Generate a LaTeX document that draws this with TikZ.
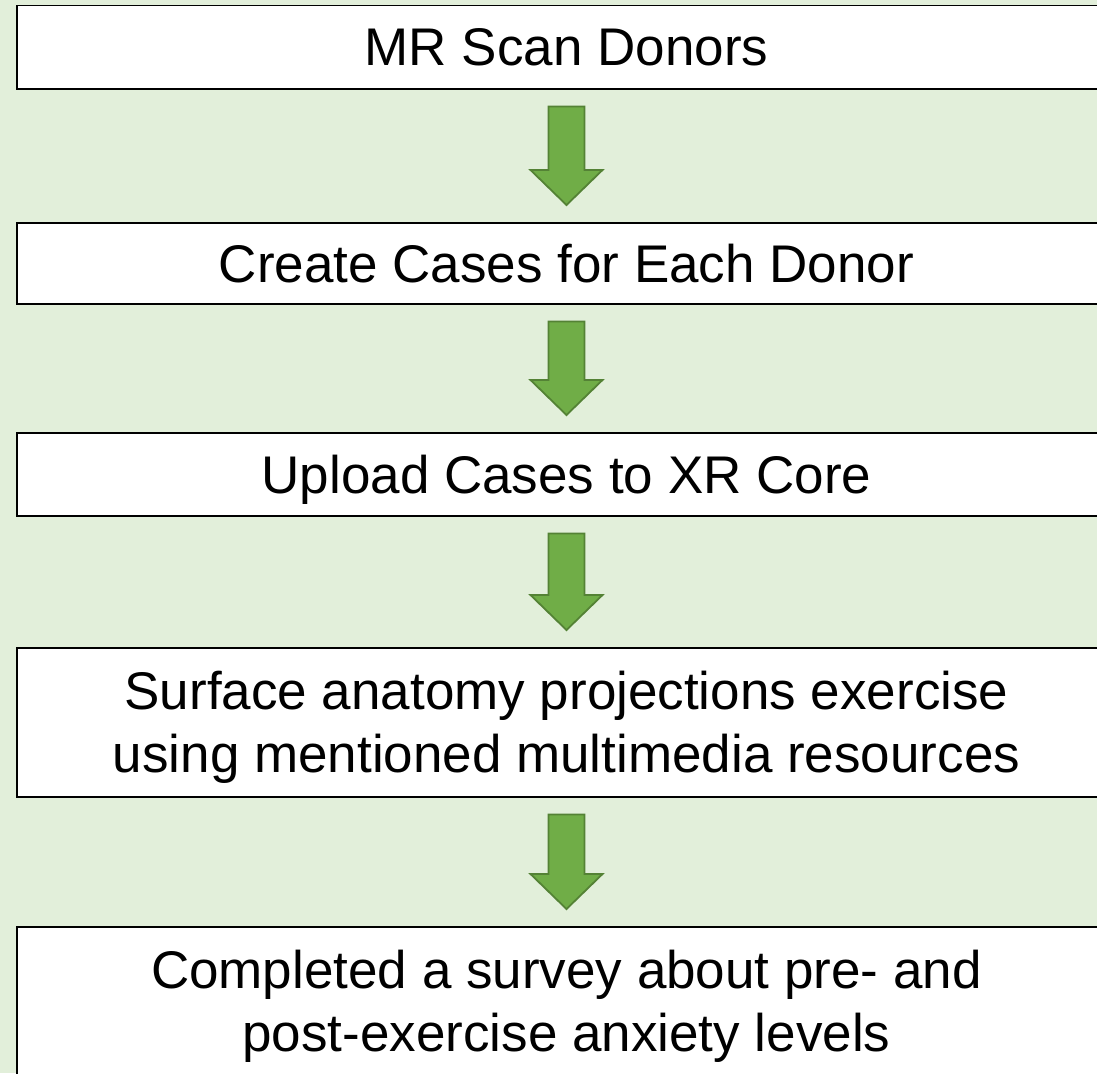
\documentclass[tikz,border=0pt]{standalone}
\usepackage{fontspec}
\setmainfont{Liberation Sans}
\usetikzlibrary{calc}
\definecolor{bggreen}{HTML}{E2EFDA}
\definecolor{arrfill}{HTML}{70AD47}
\definecolor{arrdraw}{HTML}{548235}
\tikzset{
  stepbox/.style={draw=black, line width=1.5pt, fill=white, inner sep=0pt,
    minimum width=1099pt, anchor=north, align=center, text depth=0pt,
    font=\fontsize{53}{63}\selectfont},
  blockarr/.style={fill=arrfill, draw=arrdraw, line width=1.8pt, line join=miter}
}
\newcommand\blockarrow[2]{%
  \draw[blockarr] ($(#1.south)+(-18,-17)$) -- ($(#2.north)+(-18,52)$) -- ($(#2.north)+(-36,52)$)
    -- ($(#2.north)+(0,17)$) -- ($(#2.north)+(36,52)$) -- ($(#2.north)+(18,52)$)
    -- ($(#1.south)+(18,-17)$) -- cycle;}
\begin{document}
\begin{tikzpicture}[x=1pt,y=1pt]
\useasboundingbox (0,0) rectangle (1097,-1073);
\clip (0,0) rectangle (1097,-1073);
\fill[bggreen] (0,0) rectangle (1097,-1073);
\node[stepbox, minimum height=83pt] (b1) at (566.5,-5) {MR Scan Donors};
\node[stepbox, minimum height=81pt] (b2) at (566.5,-222) {Create Cases for Each Donor};
\node[stepbox, minimum height=83pt] (b3) at (566.5,-432) {Upload Cases to XR Core};
\node[stepbox, minimum height=149pt] (b4) at (566.5,-647) {Surface anatomy projections exercise\\using mentioned multimedia resources};
\node[stepbox, minimum height=149pt] (b5) at (566.5,-926) {Completed a survey about pre- and\\post-exercise anxiety levels};
\blockarrow{b1}{b2}
\blockarrow{b2}{b3}
\blockarrow{b3}{b4}
\blockarrow{b4}{b5}
\end{tikzpicture}
\end{document}
